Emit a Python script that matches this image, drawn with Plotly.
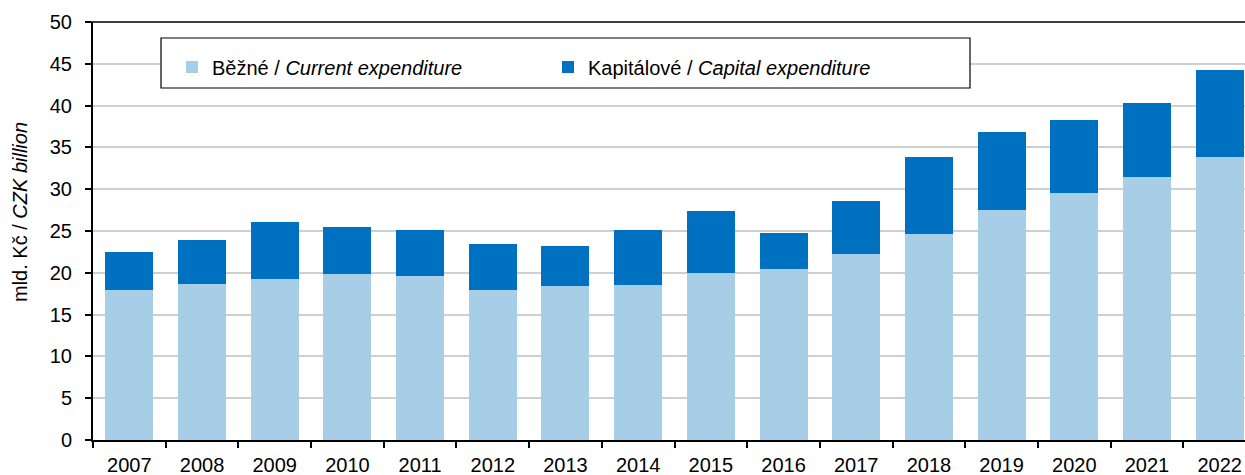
import plotly.graph_objects as go

years = ["2007", "2008", "2009", "2010", "2011", "2012", "2013", "2014",
         "2015", "2016", "2017", "2018", "2019", "2020", "2021", "2022"]
current = [18.0, 18.7, 19.3, 19.9, 19.6, 17.9, 18.4, 18.6,
           20.0, 20.5, 22.3, 24.7, 27.5, 29.6, 31.5, 33.9]
total = [22.5, 23.9, 26.1, 25.5, 25.1, 23.4, 23.2, 25.1,
         27.4, 24.8, 28.6, 33.9, 36.8, 38.3, 40.3, 44.3]
capital = [round(t - c, 2) for t, c in zip(total, current)]

name_current = "Běžné / <i>Current expenditure</i>"
name_capital = "Kapitálové / <i>Capital expenditure</i>"
y_title = "mld. Kč / <i>CZK billion</i>"

FONT = "Liberation Sans, Arial, sans-serif"
FS = 20

W, H = 1256, 475
L, T, B = 93, 22, 35
PW = W - L
PH = H - T - B


def px_x(x):
    return (x - L) / PW


def px_y(y):
    return (H - B - y) / PH


fig = go.Figure()
fig.add_trace(go.Bar(x=years, y=current, name=name_current,
                     marker=dict(color="#A7CDE7", line=dict(width=0))))
fig.add_trace(go.Bar(x=years, y=capital, name=name_capital,
                     marker=dict(color="#0070C0", line=dict(width=0))))

fig.update_layout(
    width=W, height=H,
    barmode="stack", bargap=0.34,
    plot_bgcolor="white", paper_bgcolor="white",
    margin=dict(l=L, r=0, t=T, b=B, autoexpand=False),
    font=dict(family=FONT, size=FS, color="black"),
    showlegend=True,
    legend=dict(orientation="h", traceorder="normal",
                x=px_x(172), xanchor="left", y=px_y(67), yanchor="middle",
                bgcolor="rgba(0,0,0,0)", borderwidth=0,
                entrywidth=331, entrywidthmode="pixels",
                font=dict(family=FONT, size=FS, color="black")),
    xaxis=dict(showline=True, linecolor="black", linewidth=2,
               ticks="outside", tickson="boundaries", ticklen=6,
               tickcolor="black", tickwidth=1.5, automargin=False,
               ticklabelstandoff=6,
               tickfont=dict(family=FONT, size=FS, color="black"),
               showgrid=False, fixedrange=True),
    yaxis=dict(range=[0, 50], dtick=5, tick0=0, automargin=False,
               showline=True, linecolor="black", linewidth=2,
               ticks="outside", ticklen=6, tickcolor="black", tickwidth=1.5,
               ticklabelstandoff=9,
               tickfont=dict(family=FONT, size=FS, color="black"),
               showgrid=True, gridcolor="#CFCFCF", gridwidth=1.5,
               zeroline=False, fixedrange=True),
    shapes=[
        dict(type="line", xref="paper", yref="paper", x0=px_x(88), x1=1, y0=1, y1=1,
             line=dict(color="black", width=1.5), layer="above"),
        dict(type="rect", xref="paper", yref="paper",
             x0=px_x(161), x1=px_x(970),
             y0=px_y(88), y1=px_y(38),
             fillcolor="white", line=dict(color="black", width=1.2), layer="above"),
    ],
    annotations=[
        dict(text=y_title, xref="paper", yref="paper",
             x=px_x(20), y=px_y(212), xanchor="center", yanchor="middle",
             textangle=-90, showarrow=False,
             font=dict(family=FONT, size=FS, color="black")),
    ],
)

fig.write_html("out.html",
               config={"displayModeBar": False},
               post_script="document.body.style.margin='0';document.body.style.padding='0';"
                           "document.body.style.overflow='hidden';"
                           "document.documentElement.style.overflow='hidden';")
